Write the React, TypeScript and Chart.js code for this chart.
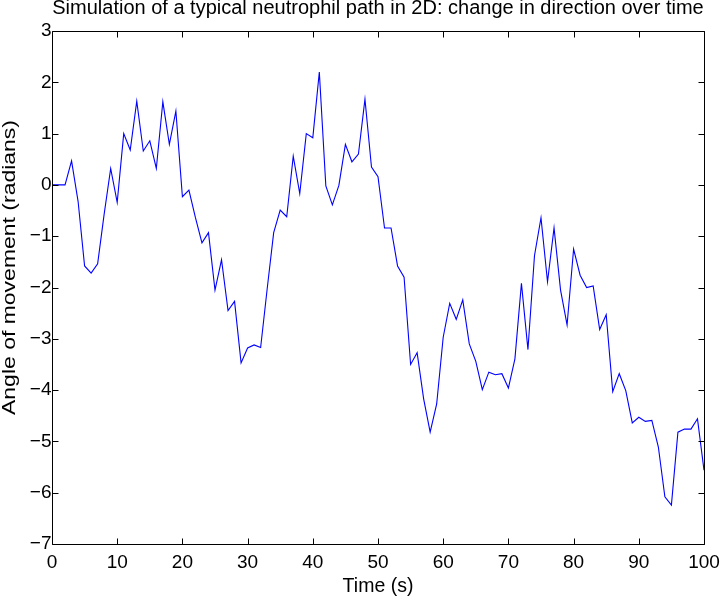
import React, { useEffect, useRef } from "react";
import { Chart, registerables } from "chart.js";

Chart.register(...registerables);

const titleText = "Simulation of a typical neutrophil path in 2D: change in direction over time";
const xLabel = "Time (s)";
const yLabel = "Angle of movement (radians)";

const xTicks = [0, 10, 20, 30, 40, 50, 60, 70, 80, 90, 100];
const yTicks = [-7, -6, -5, -4, -3, -2, -1, 0, 1, 2, 3];

const time = [
  0, 1, 2, 3, 4, 5, 6, 7, 8, 9, 10, 11, 12, 13, 14, 15, 16, 17, 18, 19, 20,
  21, 22, 23, 24, 25, 26, 27, 28, 29, 30, 31, 32, 33, 34, 35, 36, 37, 38, 39, 40,
  41, 42, 43, 44, 45, 46, 47, 48, 49, 50, 51, 52, 53, 54, 55, 56, 57, 58, 59, 60,
  61, 62, 63, 64, 65, 66, 67, 68, 69, 70, 71, 72, 73, 74, 75, 76, 77, 78, 79, 80,
  81, 82, 83, 84, 85, 86, 87, 88, 89, 90, 91, 92, 93, 94, 95, 96, 97, 98, 99, 100,
];

const angle = [
  0, 0, 0, 0.47, -0.32, -1.58, -1.72, -1.54, -0.57, 0.32, -0.34,
  1.0, 0.68, 1.63, 0.66, 0.86, 0.32, 1.62, 0.79, 1.44, -0.23,
  -0.1, -0.64, -1.13, -0.93, -2.05, -1.46, -2.45, -2.27, -3.47, -3.18,
  -3.12, -3.17, -2.03, -0.93, -0.49, -0.62, 0.56, -0.17, 1.0, 0.92,
  2.2, -0.02, -0.39, -0.01, 0.79, 0.45, 0.6, 1.67, 0.35, 0.16,
  -0.84, -0.84, -1.58, -1.8, -3.5, -3.27, -4.17, -4.82, -4.27, -2.97,
  -2.31, -2.62, -2.24, -3.1, -3.44, -3.99, -3.65, -3.7, -3.68, -3.96,
  -3.39, -1.92, -3.21, -1.38, -0.64, -1.89, -0.84, -2.05, -2.73, -1.25,
  -1.76, -2.0, -1.97, -2.82, -2.53, -4.03, -3.68, -4.01, -4.64, -4.53,
  -4.61, -4.59, -5.11, -6.08, -6.24, -4.82, -4.76, -4.76, -4.56, -5.56,
];

const FONT = "'Liberation Sans', Arial, Helvetica, sans-serif";

const framePlugin = {
  id: "matlabFrame",
  afterDatasetsDraw(chart: any) {
    const { ctx, chartArea, scales } = chart;
    const { left, right, top, bottom } = chartArea;
    const L = Math.round(left) + 0.5;
    const R = Math.round(right) + 0.5;
    const T = Math.round(top) + 0.5;
    const B = Math.round(bottom) + 0.5;
    const tick = 6;
    ctx.save();
    ctx.strokeStyle = "#000";
    ctx.lineWidth = 1;
    ctx.beginPath();
    ctx.rect(L, T, R - L, B - T);
    xTicks.forEach((v) => {
      const px = Math.round(scales.x.getPixelForValue(v)) + 0.5;
      ctx.moveTo(px, B);
      ctx.lineTo(px, B - tick);
      ctx.moveTo(px, T);
      ctx.lineTo(px, T + tick);
    });
    yTicks.forEach((v) => {
      const py = Math.round(scales.y.getPixelForValue(v)) + 0.5;
      ctx.moveTo(L, py);
      ctx.lineTo(L + tick, py);
      ctx.moveTo(R, py);
      ctx.lineTo(R - tick, py);
    });
    ctx.stroke();
    ctx.restore();
  },
  afterDraw(chart: any) {
    // y-axis label (slightly wide lettering as in the reference)
    const { ctx } = chart;
    ctx.save();
    ctx.font = `18.6px ${FONT}`;
    ctx.fillStyle = "#000";
    ctx.textAlign = "center";
    ctx.textBaseline = "alphabetic";
    const w = ctx.measureText(yLabel).width;
    const stretch = 295 / w;
    ctx.translate(15, 267.5);
    ctx.rotate(-Math.PI / 2);
    ctx.scale(stretch, 1);
    ctx.fillText(yLabel, 0, 0);
    ctx.restore();
  },
};

export default function App() {
  const ref = useRef<HTMLCanvasElement>(null);

  useEffect(() => {
    if (!ref.current) return;
    const chart = new Chart(ref.current, {
      type: "line",
      data: {
        datasets: [
          {
            label: yLabel,
            data: angle.map((v, i) => ({ x: time[i], y: v })),
            borderColor: "#0000FF",
            borderWidth: 1.1,
            pointRadius: 0,
            tension: 0,
            fill: false,
          },
        ],
      },
      options: {
        animation: false,
        responsive: false,
        devicePixelRatio: 1,
        layout: { padding: { left: 0, right: 20, top: 0, bottom: 0 } },
        plugins: {
          legend: { display: false },
          tooltip: { enabled: false },
          title: {
            display: true,
            text: titleText,
            fullSize: false,
            color: "#000",
            font: { family: FONT, size: 20, weight: "normal", lineHeight: 1.0 },
            padding: { top: -1.6, bottom: 12.6 },
          },
        },
        scales: {
          x: {
            type: "linear",
            min: 0,
            max: 100,
            afterBuildTicks: (scale: any) => {
              scale.ticks = xTicks.map((v) => ({ value: v }));
            },
            afterFit: (scale: any) => {
              scale.height = 55;
              scale.paddingLeft = 0;
              scale.paddingRight = 0;
            },
            grid: { display: false, drawTicks: false },
            border: { display: false },
            ticks: {
              color: "#000",
              padding: 7.3,
              maxRotation: 0,
              font: { family: FONT, size: 19 },
              callback: (v: any) => String(v),
            },
            title: {
              display: true,
              text: xLabel,
              color: "#000",
              font: { family: FONT, size: 19.5, lineHeight: 1.0 },
              padding: { top: 0, bottom: 2.75 },
            },
          },
          y: {
            type: "linear",
            min: -7,
            max: 3,
            afterBuildTicks: (scale: any) => {
              scale.ticks = yTicks.map((v) => ({ value: v }));
            },
            afterFit: (scale: any) => {
              scale.width = 52;
              scale.paddingTop = 0;
              scale.paddingBottom = 0;
            },
            grid: { display: false, drawTicks: false },
            border: { display: false },
            ticks: {
              color: "#000",
              padding: 0.5,
              font: { family: FONT, size: 19 },
              callback: (v: any) => (Number(v) < 0 ? "\u2212" + Math.abs(Number(v)) : String(v)),
            },
            title: { display: false },
          },
        },
      },
      plugins: [framePlugin],
    });
    return () => chart.destroy();
  }, []);

  return (
    <div style={{ position: "fixed", left: 0, top: 0, width: 724, height: 599, background: "#fff" }}>
      <canvas ref={ref} width={724} height={599} style={{ width: 724, height: 599, display: "block" }} />
    </div>
  );
}
